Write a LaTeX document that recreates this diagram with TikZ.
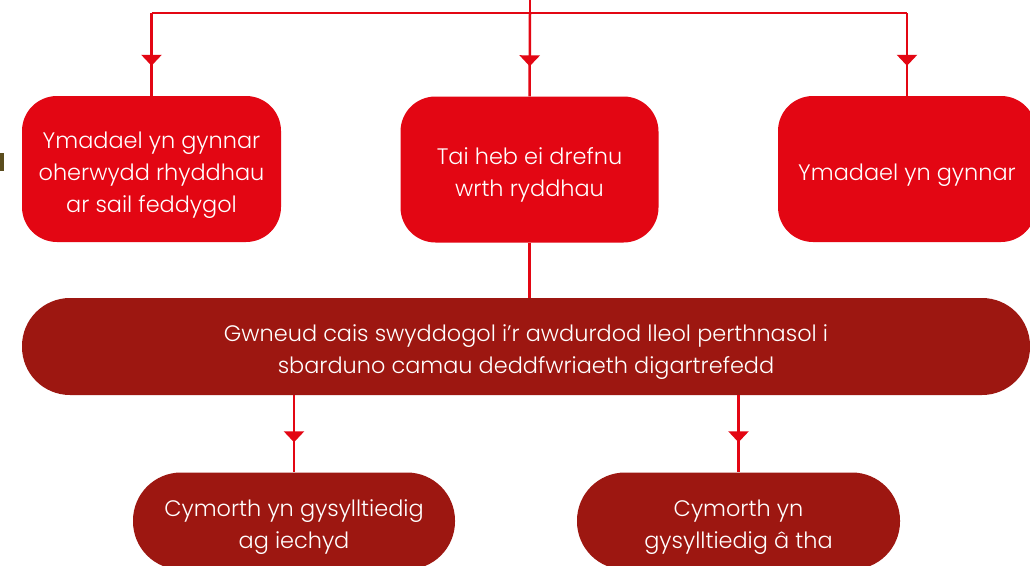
\documentclass[tikz,border=0pt]{standalone}
\usepackage{fontspec}
\setmainfont{Poppins}[UprightFont=* Light]
\usetikzlibrary{arrows.meta,decorations.markings}
\definecolor{brightred}{HTML}{E30613}
\definecolor{darkred}{HTML}{9D1711}
\definecolor{olive}{HTML}{5B4D1E}
\newcommand\lowtext[1]{\raisebox{-5pt}[\height][\depth]{\begin{tabular}{@{}c@{}}#1\end{tabular}}}
\tikzset{
  txt/.style={text=white,font=\fontsize{22.4}{32}\selectfont,inner sep=0pt},
  topbox/.style={txt,fill=brightred,rounded corners=35pt,minimum height=146pt},
  pill/.style={txt,fill=darkred,rounded corners=48pt,minimum height=97pt},
  conn/.style={draw=brightred,line width=2.5pt},
  midarrow/.style={conn,postaction={decorate},decoration={markings,
    mark=at position -30pt with {\arrow[brightred]{Triangle[width=20pt,length=11pt]}}}}
}
\begin{document}
\begin{tikzpicture}[x=1pt,y=-1pt]
\useasboundingbox (0,0) rectangle (1030,565);
\fill[white] (0,0) rectangle (1030,565);
\node[fill=olive,minimum width=4pt,minimum height=18pt,inner sep=0pt] (mark) at (2,162) {};
\node[topbox,minimum width=259pt] (b1) at (151.5,169) {\lowtext{Ymadael yn gynnar\\oherwydd rhyddhau\\ar sail feddygol}};
\node[topbox,minimum width=258pt] (b2) at (529.5,169.5) {\lowtext{Tai heb ei drefnu\\wrth ryddhau}};
\node[topbox,minimum width=258pt] (b3) at (907,169) {\lowtext{Ymadael yn gynnar}};
\node[pill,minimum width=1008pt] (big) at (526,346.5) {\lowtext{Gwneud cais swyddogol i’r awdurdod lleol perthnasol i\\sbarduno camau deddfwriaeth digartrefedd}};
\node[pill,minimum width=322pt] (bl) at (294,521) {\lowtext{Cymorth yn gysylltiedig\\ag iechyd}};
\node[pill,minimum width=323pt] (br) at (738.5,521) {\lowtext{Cymorth yn\\gysylltiedig â tha}};
\coordinate (top) at (530,0);
\coordinate (hub) at (530,13);
\coordinate (h1) at (b1.north |- hub);
\coordinate (h3) at (b3.north |- hub);
\draw[conn] (top) -- (hub);
\draw[conn] (h1) -- (h3);
\draw[midarrow] (h1) -- (b1.north);
\draw[midarrow] (hub) -- (b2.north);
\draw[midarrow] (h3) -- (b3.north);
\draw[conn] (b2.south) -- (b2.south |- big.north);
\draw[midarrow] (bl.north |- big.south) -- (bl.north);
\draw[midarrow] (br.north |- big.south) -- (br.north);
\end{tikzpicture}
\end{document}
